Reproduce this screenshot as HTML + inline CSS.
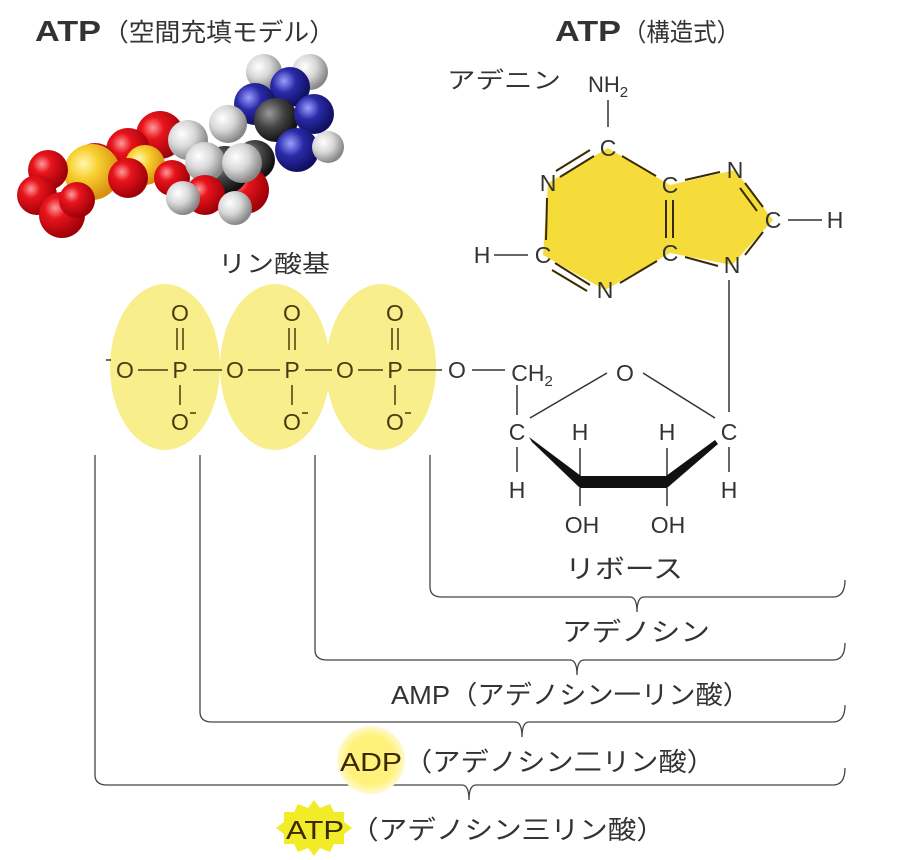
<!DOCTYPE html>
<html><head><meta charset="utf-8"><style>
body{margin:0;background:#fff;}
svg{display:block;}
text{font-family:"Liberation Sans","Noto Sans CJK JP",sans-serif;fill:#333;}
</style></head><body>
<svg width="900" height="860" viewBox="0 0 900 860" xmlns="http://www.w3.org/2000/svg">
<defs>
<radialGradient id="r" cx="35%" cy="35%" r="65%"><stop offset="0" stop-color="#ff9a9a"/><stop offset="0.35" stop-color="#e8141c"/><stop offset="1" stop-color="#a00008"/></radialGradient>
<radialGradient id="y" cx="35%" cy="35%" r="65%"><stop offset="0" stop-color="#fff8b0"/><stop offset="0.4" stop-color="#f8d030"/><stop offset="1" stop-color="#d89010"/></radialGradient>
<radialGradient id="w" cx="35%" cy="35%" r="65%"><stop offset="0" stop-color="#ffffff"/><stop offset="0.5" stop-color="#d8d8d8"/><stop offset="1" stop-color="#888"/></radialGradient>
<radialGradient id="k" cx="35%" cy="35%" r="65%"><stop offset="0" stop-color="#999"/><stop offset="0.5" stop-color="#444"/><stop offset="1" stop-color="#111"/></radialGradient>
<radialGradient id="b" cx="35%" cy="35%" r="65%"><stop offset="0" stop-color="#9aa0ff"/><stop offset="0.45" stop-color="#2a2aa8"/><stop offset="1" stop-color="#101060"/></radialGradient>
<radialGradient id="glow" cx="50%" cy="50%" r="50%"><stop offset="0" stop-color="#fff27a"/><stop offset="0.7" stop-color="#fff17a"/><stop offset="1" stop-color="#fffbd0"/></radialGradient>
</defs>

<!-- titles -->
<text x="35" y="41" font-size="29" font-weight="bold" textLength="66" lengthAdjust="spacingAndGlyphs">ATP</text>
<text x="103" y="41" font-size="25" textLength="232" lengthAdjust="spacingAndGlyphs">（空間充填モデル）</text>
<text x="555" y="41" font-size="29" font-weight="bold" textLength="66" lengthAdjust="spacingAndGlyphs">ATP</text>
<text x="623" y="41" font-size="25" textLength="117" lengthAdjust="spacingAndGlyphs">（構造式）</text>

<!-- space filling model -->
<g>
<circle cx="264" cy="72" r="18" fill="url(#w)"/>
<circle cx="310" cy="72" r="18" fill="url(#w)"/>
<circle cx="290" cy="87" r="20" fill="url(#b)"/>
<circle cx="255" cy="104" r="21" fill="url(#b)"/>
<circle cx="276" cy="120" r="22" fill="url(#k)"/>
<circle cx="314" cy="114" r="20" fill="url(#b)"/>
<circle cx="228" cy="124" r="19" fill="url(#w)"/>
<circle cx="297" cy="150" r="22" fill="url(#b)"/>
<circle cx="328" cy="147" r="16" fill="url(#w)"/>
<circle cx="160" cy="135" r="24" fill="url(#r)"/>
<circle cx="255" cy="160" r="20" fill="url(#k)"/>
<circle cx="245" cy="190" r="24" fill="url(#r)"/>
<circle cx="225" cy="170" r="24" fill="url(#k)"/>
<circle cx="188" cy="140" r="20" fill="url(#w)"/>
<circle cx="128" cy="150" r="22" fill="url(#r)"/>
<circle cx="145" cy="165" r="20" fill="url(#y)"/>
<circle cx="172" cy="178" r="18" fill="url(#r)"/>
<circle cx="95" cy="165" r="22" fill="url(#r)"/>
<circle cx="92" cy="172" r="28" fill="url(#y)"/>
<circle cx="128" cy="178" r="20" fill="url(#r)"/>
<circle cx="205" cy="162" r="20" fill="url(#w)"/>
<circle cx="242" cy="163" r="20" fill="url(#w)"/>
<circle cx="205" cy="195" r="20" fill="url(#r)"/>
<circle cx="183" cy="198" r="17" fill="url(#w)"/>
<circle cx="235" cy="208" r="17" fill="url(#w)"/>
<circle cx="48" cy="170" r="20" fill="url(#r)"/>
<circle cx="37" cy="195" r="20" fill="url(#r)"/>
<circle cx="62" cy="215" r="23" fill="url(#r)"/>
<circle cx="77" cy="200" r="18" fill="url(#r)"/>
</g>

<!-- adenine -->
<text x="447" y="88" font-size="23" textLength="114" lengthAdjust="spacingAndGlyphs">アデニン</text>
<text x="608" y="92" font-size="22" text-anchor="middle">NH<tspan font-size="15" dy="5">2</tspan></text>
<line x1="608" y1="100" x2="608" y2="127" stroke="#333" stroke-width="1.5"/>
<polygon points="608,148 548,183 543,255 605,290 670,253 670,185" fill="#f5dc3a"/>
<polygon points="670,185 735,170 773,220 732,265 670,253" fill="#f5dc3a"/>
<g stroke="#3a2a00" stroke-width="2" fill="none">
<line x1="594" y1="156" x2="560" y2="177"/><line x1="590" y1="150" x2="556" y2="171"/>
<line x1="622" y1="156" x2="656" y2="176"/>
<line x1="547" y1="198" x2="546" y2="240"/>
<line x1="555" y1="263" x2="590" y2="285"/><line x1="552" y1="270" x2="587" y2="291"/>
<line x1="620" y1="283" x2="657" y2="261"/>
<line x1="666" y1="200" x2="666" y2="238"/><line x1="673" y1="200" x2="673" y2="238"/>
<line x1="685" y1="180" x2="720" y2="172"/>
<line x1="745" y1="183" x2="763" y2="207"/><line x1="740" y1="188" x2="757" y2="211"/>
<line x1="763" y1="232" x2="745" y2="255"/>
<line x1="685" y1="257" x2="718" y2="266"/>
</g>
<g font-size="23" text-anchor="middle">
<text x="608" y="156">C</text><text x="548" y="191">N</text><text x="670" y="193">C</text>
<text x="735" y="178">N</text><text x="773" y="228">C</text><text x="732" y="273">N</text>
<text x="670" y="261">C</text><text x="605" y="298">N</text><text x="543" y="263">C</text>
<text x="482" y="263">H</text><text x="835" y="228">H</text>
</g>
<line x1="494" y1="255" x2="528" y2="255" stroke="#333" stroke-width="1.5"/>
<line x1="788" y1="220" x2="822" y2="220" stroke="#333" stroke-width="1.5"/>

<!-- phosphate groups -->
<text x="218" y="272" font-size="24" textLength="112" lengthAdjust="spacingAndGlyphs">リン酸基</text>
<ellipse cx="165" cy="367" rx="55" ry="83" fill="#f8ee8c"/>
<ellipse cx="275" cy="367" rx="55" ry="83" fill="#f8ee8c"/>
<ellipse cx="381" cy="367" rx="55" ry="83" fill="#f8ee8c"/>
<g font-size="23" text-anchor="middle">
<text x="125" y="378" style="fill:#4a3a10">O</text>
<text x="235" y="378" style="fill:#4a3a10">O</text>
<text x="345" y="378" style="fill:#4a3a10">O</text>
<text x="180" y="378" style="fill:#4a3a10">P</text>
<text x="292" y="378" style="fill:#4a3a10">P</text>
<text x="395" y="378" style="fill:#4a3a10">P</text>
<text x="180" y="321" style="fill:#4a3a10">O</text>
<text x="292" y="321" style="fill:#4a3a10">O</text>
<text x="395" y="321" style="fill:#4a3a10">O</text>
<text x="180" y="430" style="fill:#4a3a10">O</text>
<text x="292" y="430" style="fill:#4a3a10">O</text>
<text x="395" y="430" style="fill:#4a3a10">O</text>
<text x="457" y="378">O</text>
</g>
<g stroke="#4a3a10" stroke-width="1.5">
<line x1="106" y1="360" x2="111" y2="360"/>
<line x1="190" y1="413" x2="196" y2="413"/><line x1="302" y1="413" x2="308" y2="413"/><line x1="405" y1="413" x2="411" y2="413"/>
<line x1="138" y1="370" x2="168" y2="370"/><line x1="193" y1="370" x2="222" y2="370"/>
<line x1="248" y1="370" x2="280" y2="370"/><line x1="305" y1="370" x2="332" y2="370"/>
<line x1="358" y1="370" x2="383" y2="370"/><line x1="408" y1="370" x2="442" y2="370"/>
<line x1="177" y1="328" x2="177" y2="350"/><line x1="183" y1="328" x2="183" y2="350"/>
<line x1="289" y1="328" x2="289" y2="350"/><line x1="295" y1="328" x2="295" y2="350"/>
<line x1="392" y1="328" x2="392" y2="350"/><line x1="398" y1="328" x2="398" y2="350"/>
<line x1="180" y1="385" x2="180" y2="405"/><line x1="292" y1="385" x2="292" y2="405"/><line x1="395" y1="385" x2="395" y2="405"/>
</g>

<!-- ribose -->
<g stroke="#333" stroke-width="1.5">
<line x1="472" y1="370" x2="505" y2="370"/>
<line x1="517" y1="385" x2="517" y2="415"/>
<line x1="530" y1="418" x2="607" y2="373"/>
<line x1="643" y1="373" x2="715" y2="418"/>
<line x1="729" y1="280" x2="729" y2="412"/>
<line x1="517" y1="447" x2="517" y2="472"/>
<line x1="729" y1="447" x2="729" y2="472"/>
<line x1="580" y1="448" x2="580" y2="478"/><line x1="667" y1="448" x2="667" y2="478"/>
<line x1="580" y1="488" x2="580" y2="506"/><line x1="667" y1="488" x2="667" y2="506"/>
</g>
<polygon points="529,437 532,442 580,488 667,488 718,444 715,440 666,476 581,476" fill="#111"/>
<g font-size="23" text-anchor="middle">
<text x="532" y="381">CH<tspan font-size="15" dy="5">2</tspan></text>
<text x="625" y="381">O</text>
<text x="517" y="440">C</text><text x="729" y="440">C</text>
<text x="580" y="440">H</text><text x="667" y="440">H</text>
<text x="517" y="498">H</text><text x="729" y="498">H</text>
<text x="582" y="533">OH</text><text x="668" y="533">OH</text>
</g>

<!-- brackets -->
<g stroke="#444" stroke-width="1.3" fill="none">
<path d="M430,455 V587 Q430,597 442,597 H630 Q637,597 637,612 Q637,597 644,597 H833 Q845,597 845,580"/>
<path d="M315,455 V650 Q315,660 327,660 H570 Q577,660 577,675 Q577,660 584,660 H833 Q845,660 845,643"/>
<path d="M200,455 V712 Q200,722 212,722 H515 Q522,722 522,737 Q522,722 529,722 H833 Q845,722 845,705"/>
<path d="M95,455 V775 Q95,785 107,785 H462 Q469,785 469,800 Q469,785 476,785 H833 Q845,785 845,768"/>
</g>
<g font-size="26">
<text x="565" y="578" textLength="118" lengthAdjust="spacingAndGlyphs">リボース</text>
<text x="562" y="641" textLength="148" lengthAdjust="spacingAndGlyphs">アデノシン</text>
<text x="391" y="704" textLength="359" lengthAdjust="spacingAndGlyphs">AMP（アデノシン一リン酸）</text>
<circle cx="371" cy="760" r="34" fill="url(#glow)"/>
<text x="340" y="771" style="fill:#3a2a00" textLength="62" lengthAdjust="spacingAndGlyphs">ADP</text>
<text x="404" y="771" textLength="311" lengthAdjust="spacingAndGlyphs">（アデノシン二リン酸）</text>
<polygon points="314,800 320,808 330,804 334,812 344,812 344,822 352,828 344,834 344,844 334,844 330,852 320,848 314,856 308,848 298,852 294,844 284,844 284,834 276,828 284,822 284,812 294,812 298,804 308,808" fill="#f2ec28"/>
<text x="286" y="839" style="fill:#3a2a00" textLength="58" lengthAdjust="spacingAndGlyphs">ATP</text>
<text x="350" y="839" textLength="315" lengthAdjust="spacingAndGlyphs">（アデノシン三リン酸）</text>
</g>
</svg>
</body></html>
